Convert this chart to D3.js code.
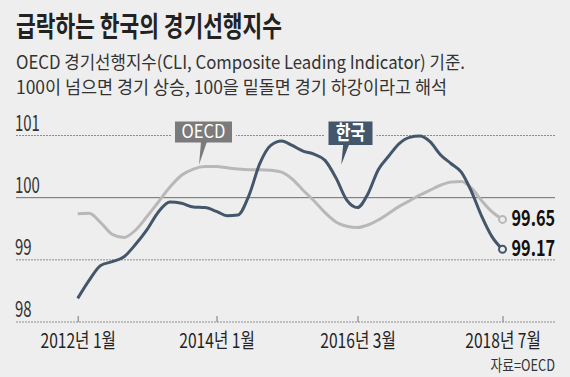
<!DOCTYPE html>
<html>
<head>
<meta charset="utf-8">
<script src="https://cdn.jsdelivr.net/npm/d3@7"></script>
<style>
  body { margin: 0; background: #eeeeee; }
  svg { display: block; font-family: "Noto Sans CJK KR", "Noto Sans", sans-serif; }
</style>
</head>
<body>
<div id="chart"></div>
<script>
// Data (every second month)
const months = [
    "2012-01", "2012-03", "2012-05", "2012-07", "2012-09", "2012-11",
    "2013-01", "2013-03", "2013-05", "2013-07", "2013-09", "2013-11",
    "2014-01", "2014-03", "2014-05", "2014-07", "2014-09", "2014-11",
    "2015-01", "2015-03", "2015-05", "2015-07", "2015-09", "2015-11",
    "2016-01", "2016-03", "2016-05", "2016-07", "2016-09", "2016-11",
    "2017-01", "2017-03", "2017-05", "2017-07", "2017-09", "2017-11",
    "2018-01", "2018-03", "2018-05", "2018-07"
];

const koreaValues = [
    98.38, 98.67, 98.91, 98.97, 99.05, 99.25, 99.49, 99.77, 99.93, 99.91,
    99.85, 99.84, 99.78, 99.71, 99.72, 100.03, 100.55, 100.84, 100.91, 100.84,
    100.75, 100.70, 100.60, 100.32, 99.96, 99.84, 100.06, 100.45, 100.67, 100.87,
    100.97, 100.99, 100.90, 100.69, 100.55, 100.41, 100.09, 99.70, 99.37, 99.17
];

const oecdValues = [
    99.74, 99.75, 99.60, 99.41, 99.36, 99.48, 99.70, 99.93, 100.17, 100.36,
    100.46, 100.50, 100.50, 100.48, 100.46, 100.45, 100.45, 100.44, 100.41, 100.30,
    100.12, 99.95, 99.76, 99.61, 99.54, 99.52, 99.56, 99.64, 99.75, 99.86,
    99.95, 100.04, 100.12, 100.20, 100.25, 100.26, 100.15, 99.95, 99.77, 99.65
];

const tickMonths = ["2012-01", "2014-01", "2016-03", "2018-07"];
const tickLabels = ["2012년 1월", "2014년 1월", "2016년 3월", "2018년 7월"];
const yTicks = [98, 99, 100, 101];

const title = "급락하는 한국의 경기선행지수";
const subtitle1 = "OECD 경기선행지수(CLI, Composite Leading Indicator) 기준.";
const subtitle2 = "100이 넘으면 경기 상승, 100을 밑돌면 경기 하강이라고 해석";
const source = "자료=OECD";

// Setup
const width = 570, height = 377;
const bg = "#eeeeee";
const koreaColor = "#44566a";
const oecdColor = "#b8b8b8";
const parse = d3.timeParse("%Y-%m");

const svg = d3.select("#chart")
    .append("svg")
    .attr("width", width)
    .attr("height", height);

svg.append("rect").attr("width", width).attr("height", height).attr("fill", bg);

// condensed text helper
function squeeze(sel, x, y, k) {
    return sel.attr("transform", `translate(${x},${y}) scale(${k},1)`);
}

// Title and subtitle
svg.append("text")
    .attr("x", 16).attr("y", 37)
    .attr("font-size", 28).attr("font-weight", "bold").attr("fill", "#222")
    .attr("textLength", 266).attr("lengthAdjust", "spacingAndGlyphs")
    .text(title);

svg.append("text")
    .attr("x", 16).attr("y", 69)
    .attr("font-size", 18).attr("fill", "#333")
    .attr("textLength", 449).attr("lengthAdjust", "spacingAndGlyphs")
    .text(subtitle1);

svg.append("text")
    .attr("x", 16).attr("y", 94)
    .attr("font-size", 18).attr("fill", "#333")
    .attr("textLength", 431).attr("lengthAdjust", "spacingAndGlyphs")
    .text(subtitle2);

// Scales (piecewise, to follow the original's tick spacing)
const x = d3.scaleTime()
    .domain(tickMonths.map(parse))
    .range([77.7, 216.5, 357.5, 502.5]);

const y = d3.scaleLinear()
    .domain([98, 101])
    .range([322, 135.5]);

// Grid lines
const gridLeft = 16, gridRight = 555;
svg.append("g")
    .selectAll("line")
    .data(yTicks)
    .enter()
    .append("line")
    .attr("x1", gridLeft).attr("x2", gridRight)
    .attr("y1", d => y(d)).attr("y2", d => y(d))
    .attr("stroke", d => d === 100 ? "#6e6e6e" : "#8c8c8c")
    .attr("stroke-width", 1)
    .attr("stroke-dasharray", d => d === 100 ? null : "2,1");

// Y labels
svg.append("g")
    .selectAll("text")
    .data(yTicks)
    .enter()
    .append("text")
    .each(function(d) { squeeze(d3.select(this), gridLeft - 1, y(d) - 5, 0.68); })
    .attr("font-size", 22)
    .attr("fill", "#333")
    .text(d => d);

// X axis
const xAxisG = svg.append("g")
    .attr("transform", `translate(0,${y(98)})`)
    .call(d3.axisBottom(x)
        .tickValues(tickMonths.map(parse))
        .tickFormat((d, i) => tickLabels[i])
        .tickSize(-6)
        .tickPadding(0));

xAxisG.select(".domain").remove();
xAxisG.selectAll(".tick line").attr("stroke", "#777");
xAxisG.selectAll(".tick text")
    .attr("y", 0).attr("dy", null)
    .attr("transform", "translate(0,26) scale(0.78,1)")
    .attr("font-family", "'Noto Sans CJK KR', sans-serif")
    .attr("font-size", 20)
    .attr("fill", "#222");

// Lines
const korea = months.map((m, i) => ({date: parse(m), value: koreaValues[i]}));
const oecd = months.map((m, i) => ({date: parse(m), value: oecdValues[i]}));

const line = d3.line()
    .x(d => x(d.date))
    .y(d => y(d.value))
    .curve(d3.curveMonotoneX);

svg.append("path")
    .datum(oecd)
    .attr("d", line)
    .attr("fill", "none")
    .attr("stroke", oecdColor)
    .attr("stroke-width", 3);

svg.append("path")
    .datum(korea)
    .attr("d", line)
    .attr("fill", "none")
    .attr("stroke", koreaColor)
    .attr("stroke-width", 3);

// End markers and labels
[[oecd, oecdColor], [korea, koreaColor]].forEach(([series, color]) => {
    const last = series[series.length - 1];
    svg.append("circle")
        .attr("cx", x(last.date)).attr("cy", y(last.value))
        .attr("r", 3.5)
        .attr("fill", bg)
        .attr("stroke", color)
        .attr("stroke-width", 2);

    svg.append("text")
        .call(s => squeeze(s, x(last.date) + 9, y(last.value) + 7, 0.74))
        .attr("font-size", 22)
        .attr("font-weight", "bold")
        .attr("fill", "#111")
        .text(last.value.toFixed(2));
});

// Callout boxes
function callout(label, date, value, boxX, boxW, boxH, color, fontSize, bold, k) {
    const tipX = x(parse(date)), tipY = y(value);
    const top = 121.5;
    const g = svg.append("g");
    g.append("rect")
        .attr("x", boxX - 4).attr("y", top - 4)
        .attr("width", boxW + 8).attr("height", boxH + 8)
        .attr("fill", bg);
    g.append("rect")
        .attr("x", boxX).attr("y", top)
        .attr("width", boxW).attr("height", boxH)
        .attr("fill", color);
    g.append("path")
        .attr("d", `M${tipX + 2},${top + boxH - 1} L${tipX + 8},${top + boxH - 1} L${tipX},${tipY} Z`)
        .attr("fill", color);
    g.append("text")
        .call(s => squeeze(s, boxX + boxW / 2, top + boxH / 2 + fontSize * 0.36, k))
        .attr("text-anchor", "middle")
        .attr("font-size", fontSize)
        .attr("font-weight", bold ? "bold" : "normal")
        .attr("fill", "#fff")
        .text(label);
}

callout("OECD", "2013-10", 100.53, 175, 57, 21, "#7b7b7b", 18, false, 0.92);
callout("한국", "2015-12", 100.53, 328.5, 44, 23.5, koreaColor, 20, true, 0.8);

// Source
svg.append("text")
    .call(s => squeeze(s, 555, 371, 0.8))
    .attr("text-anchor", "end")
    .attr("font-size", 16)
    .attr("fill", "#333")
    .text(source);
</script>
</body>
</html>
